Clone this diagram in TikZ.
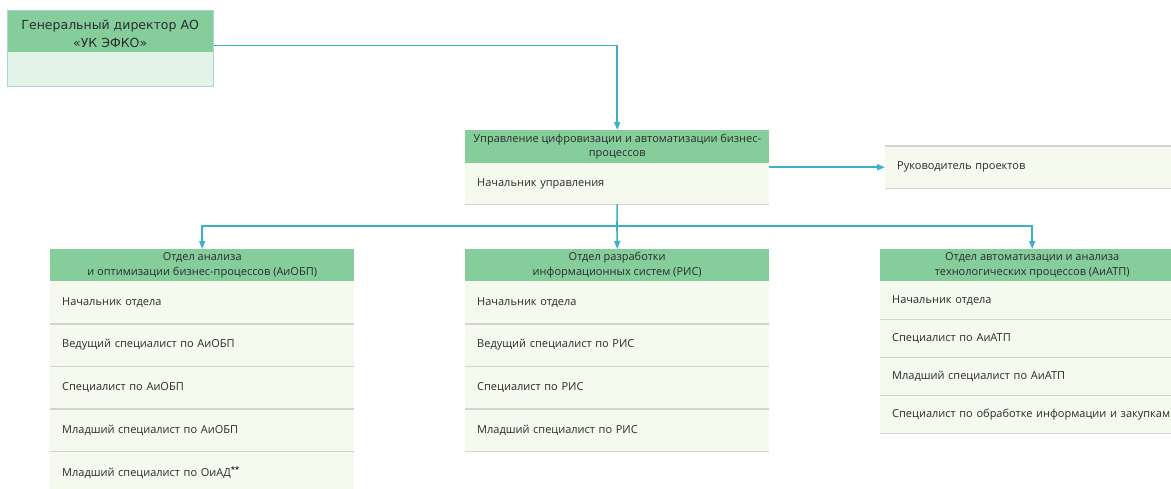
\documentclass[tikz,border=0pt]{standalone}
\usepackage{fontspec}
\setmainfont{Open Sans}
\newfontfamily\djv{DejaVu Sans}
\usetikzlibrary{arrows.meta,calc}
\definecolor{hdrgreen}{HTML}{85CE9B}
\definecolor{rowbg}{HTML}{F5F9EE}
\definecolor{topbg}{HTML}{E3F3E7}
\definecolor{topborder}{HTML}{A3D6DF}
\definecolor{conn}{HTML}{3AB2C6}
\definecolor{divgray}{HTML}{D3D3D3}
\definecolor{txt}{HTML}{2B2B2B}
\begin{document}
\begin{tikzpicture}[x=1pt,y=-1pt,
  hdr/.style={fill=hdrgreen, anchor=north west, minimum width=304pt, minimum height=32pt, inner sep=0pt, align=center, text=txt, font=\fontsize{11}{15}\selectfont},
  row/.style={fill=rowbg, anchor=north west, text width=280pt, inner xsep=12pt, inner ysep=0pt, minimum height=42.5pt, align=left, text=txt, font=\fontsize{11}{13}\selectfont},
  rowr/.style={row, minimum height=38pt},
  divider/.style={draw=divgray, line width=1.5pt},
  arr/.style={draw=conn, line width=1.6pt, -{Triangle[length=8pt,width=6pt]}},
  frame/.style={anchor=north west, inner sep=0pt}
]
\useasboundingbox (0,0) rectangle (1171,488);
\clip (0,0) rectangle (1171,488);

% General director
\node[frame, fill=hdrgreen, minimum width=206pt, minimum height=42pt] (gdh) at (7,10) {};
\node[frame, fill=topbg, minimum width=206pt, minimum height=34pt] (gdb) at (7,52) {};
\node[frame, draw=topborder, line width=1pt, minimum width=206pt, minimum height=76pt] (gd) at (7,10) {};
\node[align=center, text=txt, inner sep=0pt, font=\djv\fontsize{12.5}{18}\selectfont] (gdt) at ([yshift=-2.5pt]gdh.center) {Генеральный директор АО\\«УК ЭФКО»};

% Management
\node[hdr, minimum height=33pt, font=\fontsize{11}{13.5}\selectfont] (mgh) at (465,130) {Управление цифровизации и автоматизации бизнес-\\процессов};
\node[row, minimum height=41pt] (mgb) at (465,163) {Начальник управления};
\draw[divider] (mgb.south west) -- (mgb.south east);
\node[frame, minimum width=304pt, minimum height=74pt] (mg) at (465,130) {};

% Project manager
\node[row, minimum height=42pt] (rp) at (885,146) {Руководитель проектов};
\draw[divider] (rp.north west) -- (rp.north east);
\draw[divider] (rp.south west) -- (rp.south east);

% Department 1
\node[hdr] (d1h) at (50,249) {Отдел анализа\\и оптимизации бизнес-процессов (АиОБП)};
\node[row] (d1a) at (50,281) {Начальник отдела};
\node[row] (d1b) at (50,323.5) {Ведущий специалист по АиОБП};
\node[row] (d1c) at (50,366) {Специалист по АиОБП};
\node[row] (d1d) at (50,408.5) {Младший специалист по АиОБП};
\node[row] (d1e) at (50,451) {Младший специалист по ОиАД\textsuperscript{\textbf{**}}};
\foreach \n in {d1a,d1b,d1c,d1d,d1e}{\draw[divider] (\n.south west) -- (\n.south east);}

% Department 2
\node[hdr] (d2h) at (465,249) {Отдел разработки\\информационных систем (РИС)};
\node[row] (d2a) at (465,281) {Начальник отдела};
\node[row] (d2b) at (465,323.5) {Ведущий специалист по РИС};
\node[row] (d2c) at (465,366) {Специалист по РИС};
\node[row] (d2d) at (465,408.5) {Младший специалист по РИС};
\foreach \n in {d2a,d2b,d2c,d2d}{\draw[divider] (\n.south west) -- (\n.south east);}

% Department 3
\node[hdr] (d3h) at (880,249) {Отдел автоматизации и анализа\\технологических процессов (АиАТП)};
\node[rowr] (d3a) at (880,281) {Начальник отдела};
\node[rowr] (d3b) at (880,319) {Специалист по АиАТП};
\node[rowr] (d3c) at (880,357) {Младший специалист по АиАТП};
\node[rowr, text width=320pt] (d3d) at (880,395) {Специалист по обработке информации и закупкам};
\foreach \n in {d3a,d3b,d3c}{\draw[divider] (\n.south west) -- (\n.south east);}
\draw[divider] (d3d.south west) -- ++(304,0);

% Connectors
\coordinate (bus) at (617,226);
\draw[arr] ([yshift=3pt]gd.east) -| (mgh.north);
\draw[arr] (mg.east) -- (rp.west);
\draw[draw=conn, line width=1.6pt] (mg.south) -- (bus);
\draw[arr] (bus) -| (d1h.north);
\draw[arr] (bus) -- (d2h.north);
\draw[arr] (bus) -| (d3h.north);
\end{tikzpicture}
\end{document}
